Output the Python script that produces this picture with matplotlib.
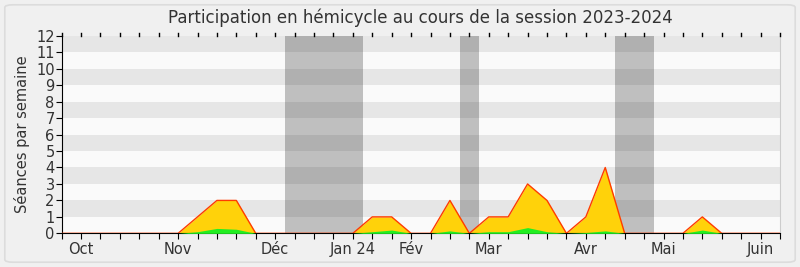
import numpy as np
import matplotlib.pyplot as plt
from matplotlib.patches import FancyBboxPatch

# weekly values, session 2023-2024 (week 0 = start of the axis)
weeks = np.arange(38)
total = [0, 0, 0, 0, 0, 0, 0, 1, 2, 2, 0, 0, 0, 0, 0, 0, 1, 1, 0, 0,
         2, 0, 1, 1, 3, 2, 0, 1, 4, 0, 0, 0, 0, 1, 0, 0, 0, 0]
green = [0, 0, 0, 0, 0, 0, 0, 0.1, 0.3, 0.25, 0, 0, 0, 0, 0, 0, 0.1, 0.2, 0, 0,
         0.15, 0, 0.1, 0.1, 0.35, 0.1, 0, 0.05, 0.15, 0, 0, 0, 0, 0.2, 0, 0, 0, 0]
vacances = [(11.5, 15.5), (20.5, 21.5), (28.5, 30.5)]
month_pos = [1, 6, 11, 15, 18, 22, 27, 31, 36]
month_lab = ['Oct', 'Nov', 'Déc', 'Jan 24', 'Fév', 'Mar', 'Avr', 'Mai', 'Juin']

fig = plt.figure(figsize=(8, 2.67), dpi=100)
fig.patch.set_facecolor('#f0f0f0')
fig.patches.append(FancyBboxPatch((0.006, 0.018), 0.988, 0.964, boxstyle='round,pad=0,rounding_size=0.01',
                                  transform=fig.transFigure, facecolor='#f0f0f0',
                                  edgecolor='#dcdcdc', linewidth=1.2, zorder=-10))

ax = fig.add_axes([0.077, 0.126, 0.898, 0.74])
ax.set_facecolor('#fafafa')
for k in range(1, 12, 2):
    ax.axhspan(k, k + 1, color='#e6e6e6', lw=0, zorder=0)
for a, b in vacances:
    ax.axvspan(a, b, color='#101010', alpha=0.25, lw=0, zorder=1)

ax.fill_between(weeks, total, color='#ffd20a', lw=0, zorder=2)
ax.fill_between(weeks, green, color='#22ee22', lw=0, zorder=3)
ax.plot(weeks, total, color='#ff3c00', lw=1, zorder=4)

ax.set_xlim(0, 37)
ax.set_ylim(0, 12)
ax.set_yticks(range(13))
ax.set_xticks(weeks)
labels = [''] * len(weeks)
for p, l in zip(month_pos, month_lab):
    labels[p] = l
ax.set_xticklabels(labels)
ax.tick_params(axis='both', labelsize=10.5, colors='#333333', length=4)
ax.tick_params(axis='x', direction='out', pad=2, color='black')
ax.tick_params(axis='y', color='black', pad=1)
# tiny marks along the top edge
for w in weeks:
    ax.plot([w, w], [1.0, 1.012], transform=ax.get_xaxis_transform(), color='black',
            lw=1, clip_on=False, zorder=5)

ax.spines['top'].set_visible(False)
ax.spines['right'].set_color('#cccccc')
ax.spines['left'].set_color('black')
ax.spines['bottom'].set_color('black')

ax.set_ylabel('Séances par semaine', fontsize=10.5, color='#333333', labelpad=4)
ax.set_title('Participation en hémicycle au cours de la session 2023-2024',
             fontsize=12, color='#333333', pad=9)

fig.savefig('out.png', dpi=100, facecolor=fig.get_facecolor())
